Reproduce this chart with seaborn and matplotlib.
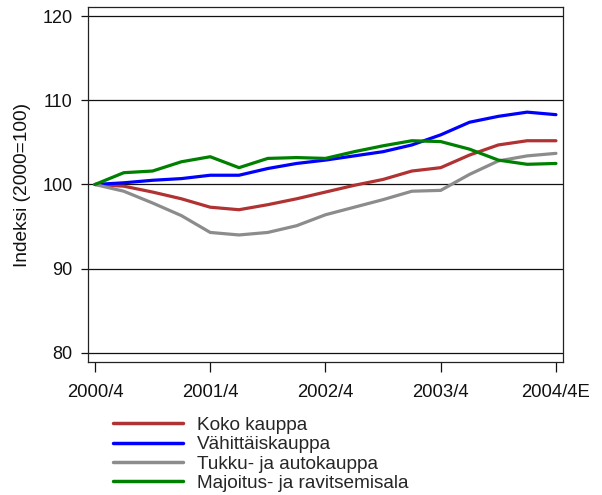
import pandas as pd
import matplotlib
matplotlib.use("Agg")
import matplotlib.pyplot as plt
import seaborn as sns

# quarterly index values, 2000/4 ... 2004/4E (2000=100)
quarters = ["2000/4", "2001/1", "2001/2", "2001/3", "2001/4", "2002/1", "2002/2", "2002/3",
            "2002/4", "2003/1", "2003/2", "2003/3", "2003/4", "2004/1", "2004/2", "2004/3", "2004/4E"]
koko = [100.0, 99.8, 99.1, 98.3, 97.3, 97.0, 97.6, 98.3, 99.1, 99.9, 100.6, 101.6, 102.0,
        103.5, 104.7, 105.2, 105.2]
vahittais = [100.0, 100.2, 100.5, 100.7, 101.1, 101.1, 101.9, 102.5, 102.9, 103.4, 103.9,
             104.7, 105.9, 107.4, 108.1, 108.6, 108.3]
tukku = [100.0, 99.2, 97.8, 96.3, 94.3, 94.0, 94.3, 95.1, 96.4, 97.3, 98.2, 99.2, 99.3,
         101.2, 102.8, 103.4, 103.7]
majoitus = [100.0, 101.4, 101.6, 102.7, 103.3, 102.0, 103.1, 103.2, 103.1, 103.9, 104.6,
            105.2, 105.1, 104.2, 102.9, 102.4, 102.5]

series_names = ["Koko kauppa", "Vähittäiskauppa", "Tukku- ja autokauppa", "Majoitus- ja ravitsemisala"]
colors = ["#B03232", "#0000FF", "#8C8C8C", "#008000"]
tick_labels = ["2000/4", "2001/4", "2002/4", "2003/4", "2004/4E"]

# long form table for seaborn
rows = []
for name, vals in zip(series_names, [koko, vahittais, tukku, majoitus]):
    for i, v in enumerate(vals):
        rows.append({"q": i, "kvartaali": quarters[i], "sarja": name, "indeksi": v})
df = pd.DataFrame(rows)

sns.set_style("white")
plt.rcParams["font.family"] = ["Liberation Sans", "DejaVu Sans"]

fig = plt.figure(figsize=(6.02, 4.95), dpi=100)
ax = fig.add_axes([0.1467, 0.2687, 0.935 - 0.1467, 0.9859 - 0.2687])

sns.lineplot(data=df, x="q", y="indeksi", hue="sarja", hue_order=series_names,
             palette=colors, linewidth=2.3, ax=ax, legend=False)

for y in [80, 90, 100, 110, 120]:
    ax.axhline(y, color="#111111", linewidth=0.9, zorder=0)

ax.set_xlim(-0.23, 16.24)
ax.set_ylim(78.9, 121.1)
ax.set_yticks([80, 90, 100, 110, 120])
ax.set_xticks([0, 4, 8, 12, 16])
ax.set_xticklabels(tick_labels)
ax.tick_params(axis="y", direction="out", length=4.8, width=0.9, labelsize=13, pad=6.5,
               left=True, colors="#111111")
ax.tick_params(axis="x", direction="out", length=7, width=0.9, labelsize=13.3, pad=9,
               bottom=True, colors="#111111")
ax.set_xlabel("")
ax.set_ylabel("Indeksi (2000=100)", fontsize=13.8, labelpad=8, color="#111111")
for s in ax.spines.values():
    s.set_color("#222222")
    s.set_linewidth(0.9)

handles = [plt.Line2D([], [], color=c, linewidth=2.5) for c in colors]
fig.legend(handles, series_names, loc="upper left", bbox_to_anchor=(0.187, 0.158),
           frameon=False, fontsize=13.7, handlelength=3.68, handletextpad=0.74,
           labelspacing=0.1, borderpad=0, borderaxespad=0)

fig.savefig("out.png", dpi=100)
